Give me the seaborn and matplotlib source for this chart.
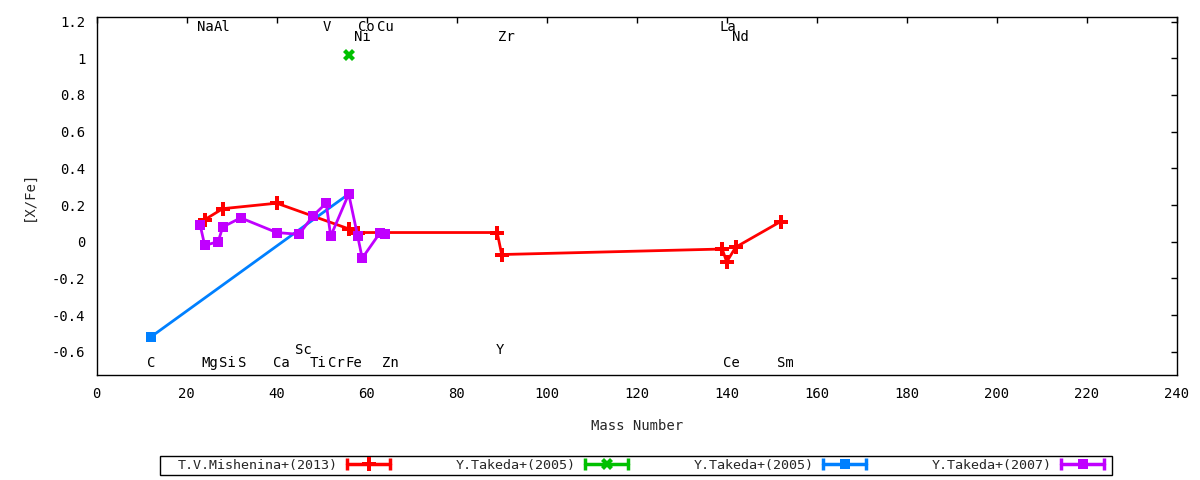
import numpy as np
import pandas as pd
import seaborn as sns
import matplotlib
matplotlib.use("Agg")
import matplotlib.pyplot as plt
from matplotlib.lines import Line2D
from matplotlib.legend_handler import HandlerLine2D, HandlerTuple
from matplotlib.patches import Rectangle
from matplotlib.ticker import FuncFormatter

# ---- data ----
mish_elem = ["Mg", "Si", "Ca", "Fe", "Ni", "Y", "Zr", "La", "Ce", "Nd", "Sm"]
mish_mass = [24, 28, 40, 56, 58, 89, 90, 139, 140, 142, 152]
mish_xfe = [0.12, 0.18, 0.21, 0.07, 0.05, 0.05, -0.07, -0.04, -0.11, -0.03, 0.11]

tak05a_mass = [56]
tak05a_xfe = [1.02]

tak05b_mass = [12, 56]
tak05b_xfe = [-0.52, 0.26]

tak07_elem = ["Na", "Mg", "Al", "Si", "S", "Ca", "Sc", "Ti", "V", "Cr", "Fe", "Ni", "Co", "Cu", "Zn"]
tak07_mass = [23, 24, 27, 28, 32, 40, 45, 48, 51, 52, 56, 58, 59, 63, 64]
tak07_xfe = [0.09, -0.02, 0.00, 0.08, 0.13, 0.05, 0.04, 0.14, 0.21, 0.03, 0.26, 0.03, -0.09, 0.05, 0.04]

series_labels = ["T.V.Mishenina+(2013)", "Y.Takeda+(2005)", "Y.Takeda+(2005)", "Y.Takeda+(2007)"]
series_colors = ["#ff0000", "#00c000", "#0080ff", "#c000ff"]

# element name annotations (name, x, y)
elem_names = ["Na", "Al", "V", "Co", "Cu", "La", "Ni", "Zr", "Nd",
              "C", "Mg", "Si", "S", "Ca", "Ti", "Cr", "Fe", "Zn", "Ce", "Sm", "Sc", "Y"]
elem_lab_x = [24.1, 27.9, 51.1, 60.0, 64.2, 140.2, 59.1, 91.1, 143.1,
              12.2, 25.2, 29.1, 32.4, 41.1, 49.2, 53.3, 57.2, 65.2, 141.1, 153.1, 45.9, 89.5]
elem_lab_y = [1.170, 1.170, 1.170, 1.170, 1.170, 1.170, 1.114, 1.114, 1.114,
              -0.663, -0.663, -0.663, -0.663, -0.663, -0.663, -0.663, -0.663, -0.663, -0.663, -0.663, -0.588, -0.588]

x_ticks = list(range(0, 241, 20))
y_ticks = [1.2, 1.0, 0.8, 0.6, 0.4, 0.2, 0.0, -0.2, -0.4, -0.6]

# ---- style ----
sns.set_style("white")
FONT = "DejaVu Sans Mono"
plt.rcParams["font.family"] = [FONT, "DejaVu Sans"]
FS = 10.0
LFS = 9.6

fig = plt.figure(figsize=(12, 4.8), dpi=100)
ax = fig.add_axes([96.7 / 1200, 1 - 375 / 480, (1176.7 - 96.7) / 1200, (375 - 16.7) / 480])

df_m = pd.DataFrame({"mass": mish_mass, "xfe": mish_xfe})
df_a = pd.DataFrame({"mass": tak05a_mass, "xfe": tak05a_xfe})
df_b = pd.DataFrame({"mass": tak05b_mass, "xfe": tak05b_xfe})
df_7 = pd.DataFrame({"mass": tak07_mass, "xfe": tak07_xfe})

sns.lineplot(data=df_m, x="mass", y="xfe", ax=ax, color=series_colors[0], lw=2,
             marker="P", markersize=9.5, markeredgewidth=0, sort=False, estimator=None, legend=False)
sns.lineplot(data=df_a, x="mass", y="xfe", ax=ax, color=series_colors[1], lw=2,
             marker="X", markersize=8.5, markeredgewidth=0, sort=False, estimator=None, legend=False)
sns.lineplot(data=df_b, x="mass", y="xfe", ax=ax, color=series_colors[2], lw=2,
             marker="s", markersize=7.2, markeredgewidth=0, sort=False, estimator=None, legend=False)
sns.lineplot(data=df_7, x="mass", y="xfe", ax=ax, color=series_colors[3], lw=2,
             marker="s", markersize=7.2, markeredgewidth=0, sort=False, estimator=None, legend=False)

for name, lx, ly in zip(elem_names, elem_lab_x, elem_lab_y):
    ax.text(lx, ly, name, ha="center", va="center", fontsize=FS, family=FONT, color="black")

ax.set_xlim(0, 240)
ax.set_ylim(-0.727, 1.227)
ax.set_xticks(x_ticks)
ax.set_yticks(y_ticks)
ax.yaxis.set_major_formatter(FuncFormatter(lambda v, p: "%g" % round(v, 3)))
ax.xaxis.set_major_formatter(FuncFormatter(lambda v, p: "%g" % v))
ax.tick_params(axis="both", which="major", direction="in", length=4, width=1,
               top=True, right=True, labelsize=FS, colors="black")
ax.tick_params(axis="x", pad=8.5)
ax.tick_params(axis="y", pad=8)
for s in ax.spines.values():
    s.set_visible(True)
    s.set_color("black")
    s.set_linewidth(1)

ax.set_xlabel("Mass Number", fontsize=FS, family=FONT, labelpad=13)
ax.set_ylabel("[X/Fe]", fontsize=FS, family=FONT, labelpad=12)

# ---- legend (gnuplot style: text then errorbar sample) ----
mk = ["P", "X", "s", "s"]
ms = [9.5, 8.5, 7.2, 7.2]
handles = []
hmap = {}
for c, m, s in zip(series_colors, mk, ms):
    caps = Line2D([], [], color=c, lw=2.5, marker="|", markersize=8, markeredgewidth=2.5)
    mid = Line2D([], [], color=c, lw=0, marker=m, markersize=s, markeredgewidth=0)
    hmap[caps] = HandlerLine2D(numpoints=2, marker_pad=0)
    hmap[mid] = HandlerLine2D(numpoints=1)
    handles.append((caps, mid))
hmap[tuple] = HandlerTuple(ndivide=1)

em = LFS * 100 / 72.0
leg = fig.legend(handles, series_labels, handler_map=hmap, ncol=4, markerfirst=False,
                 frameon=False, loc="center left",
                 bbox_to_anchor=(178 / 1200, 1 - 465.5 / 480), bbox_transform=fig.transFigure,
                 borderpad=0, borderaxespad=0, handlelength=43 / em, handletextpad=9 / em,
                 columnspacing=66 / em, prop={"family": FONT, "size": LFS})
fig.patches.append(Rectangle((160 / 1200, 1 - 475 / 480), (1112 - 160) / 1200, 19 / 480,
                             transform=fig.transFigure, fill=False, edgecolor="black", lw=1))

fig.savefig("out.png", dpi=100)
